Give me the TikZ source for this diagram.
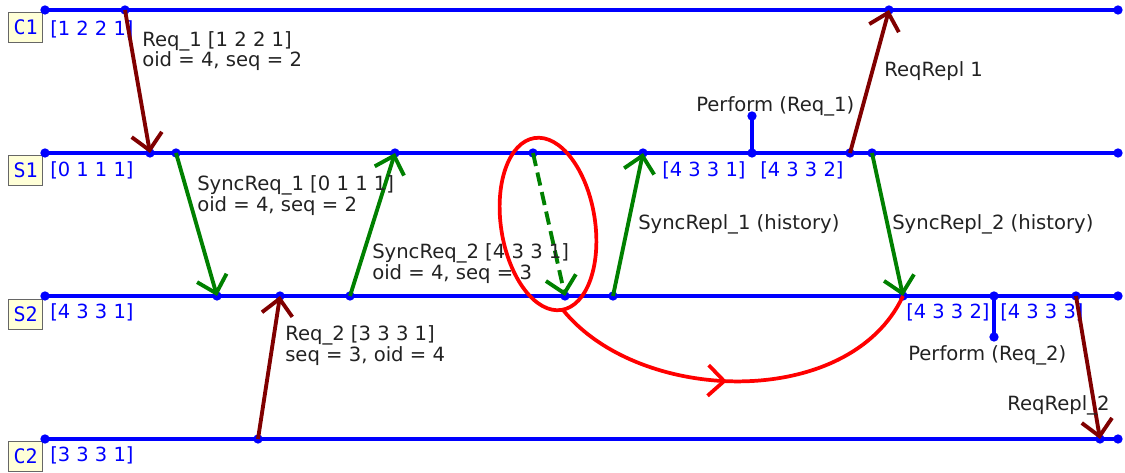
\documentclass[tikz,border=0pt]{standalone}
\usepackage{fontspec}
\setmainfont{DejaVu Sans}
\newfontfamily\pnamefont{DejaVu Sans Mono}
\usetikzlibrary{arrows.meta,decorations.markings}
\definecolor{darkred}{RGB}{128,0,0}
\definecolor{msggreen}{RGB}{0,128,0}
\definecolor{boxyellow}{RGB}{255,255,215}
\definecolor{txt}{RGB}{34,34,34}
\begin{document}
\begin{tikzpicture}[x=0.75pt,y=-0.75pt,
  tl/.style={draw=blue, line width=3.4pt},
  dot/.style={circle, fill=blue, inner sep=0pt, minimum size=7pt},
  msg/.style={line width=2.9pt, -{Straight Barb[length=12pt,width=23pt]}},
  reqmsg/.style={msg, draw=darkred},
  syncmsg/.style={msg, draw=msggreen},
  lbl/.style={anchor=north west, inner sep=0pt, align=left, text=txt, font=\fontsize{14.7}{14.5}\selectfont},
  vec/.style={anchor=north west, inner sep=0pt, text=blue, font=\fontsize{14.6}{14.5}\selectfont},
  pname/.style={draw=gray!80!black, fill=boxyellow, text=blue, line width=0.9pt, minimum width=25.5pt, minimum height=22.5pt, inner sep=0pt, anchor=north west, font=\pnamefont\fontsize{15}{15}\selectfont},
  hilite/.style={draw=red, line width=2.8pt}
]
\useasboundingbox (0,0) rectangle (1125,473);

% process names
\node[pname] (nC1) at (8,12) {C1};
\node[pname] (nS1) at (8,155) {S1};
\node[pname] (nS2) at (8,299) {S2};
\node[pname] (nC2) at (8,441) {C2};

% event dots
\node[dot] (c1a) at (45,10) {};
\node[dot] (c1b) at (125,10) {};
\node[dot] (c1c) at (889,10) {};
\node[dot] (c1z) at (1118,10) {};

\node[dot] (s1a) at (45,153) {};
\node[dot] (s1b) at (150,153) {};
\node[dot] (s1c) at (176,153) {};
\node[dot] (s1d) at (395,153) {};
\node[dot] (s1e) at (533,153) {};
\node[dot] (s1f) at (643,153) {};
\node[dot] (s1g) at (752,153) {};
\node[dot] (s1p) at (752,116) {};
\node[dot] (s1h) at (850,153) {};
\node[dot] (s1i) at (872,153) {};
\node[dot] (s1z) at (1118,153) {};

\node[dot] (s2a) at (45,296) {};
\node[dot] (s2b) at (217,296) {};
\node[dot] (s2c) at (280,296) {};
\node[dot] (s2d) at (350,296) {};
\node[dot] (s2e) at (565,296) {};
\node[dot] (s2f) at (613,296) {};
\node[dot] (s2g) at (903,296) {};
\node[dot] (s2h) at (994,296) {};
\node[dot] (s2p) at (994,337) {};
\node[dot] (s2i) at (1076,296) {};
\node[dot] (s2z) at (1118,296) {};

\node[dot] (c2a) at (45,439) {};
\node[dot] (c2b) at (258,439) {};
\node[dot] (c2c) at (1100,439) {};
\node[dot] (c2z) at (1118,439) {};

% timelines
\draw[tl] (c1a.center) -- (c1z.center);
\draw[tl] (s1a.center) -- (s1z.center);
\draw[tl] (s2a.center) -- (s2z.center);
\draw[tl] (c2a.center) -- (c2z.center);
\draw[tl] (s1g.center) -- (s1p.center);
\draw[tl] (s2h.center) -- (s2p.center);

% vector clocks
\node[vec] (v1) at (50,20) {[1 2 2 1]};
\node[vec] (v2) at (50,161) {[0 1 1 1]};
\node[vec] (v3) at (50,303) {[4 3 3 1]};
\node[vec] (v4) at (50,446) {[3 3 3 1]};
\node[vec] (v5) at (662,161) {[4 3 3 1]};
\node[vec] (v6) at (760,161) {[4 3 3 2]};
\node[vec] (v7) at (906,303) {[4 3 3 2]};
\node[vec] (v8) at (1000,303) {[4 3 3 3]};

% messages
\draw[reqmsg] (c1b.center) -- (s1b.center);
\draw[syncmsg] (s1c.center) -- (s2b.center);
\draw[syncmsg] (s2d.center) -- (s1d.center);
\draw[syncmsg, dash pattern=on 10pt off 5pt] (s1e.center) -- (s2e.center);
\draw[syncmsg] (s2f.center) -- (s1f.center);
\draw[reqmsg] (s1h.center) -- (c1c.center);
\draw[syncmsg] (s1i.center) -- (s2g.center);
\draw[reqmsg] (c2b.center) -- (s2c.center);
\draw[reqmsg] (s2i.center) -- (c2c.center);

% labels
\node[lbl] (l1) at (142,31) {Req\_1 [1 2 2 1]\\oid = 4, seq = 2};
\node[lbl] (l2) at (197,175) {SyncReq\_1 [0 1 1 1]\\oid = 4, seq = 2};
\node[lbl] (l3) at (372,243) {SyncReq\_2 [4 3 3 1]\\oid = 4, seq = 3};
\node[lbl] (l4) at (638,214) {SyncRepl\_1 (history)};
\node[lbl] (l5) at (892,214) {SyncRepl\_2 (history)};
\node[lbl] (l6) at (696,96) {Perform (Req\_1)};
\node[lbl] (l7) at (884,61) {ReqRepl 1};
\node[lbl] (l8) at (908,345) {Perform (Req\_2)};
\node[lbl] (l9) at (1007,395) {ReqRepl\_2};
\node[lbl] (l10) at (285,325) {Req\_2 [3 3 3 1]\\seq = 3, oid = 4};

% red annotation
\draw[hilite, rotate around={9:(548,224)}] (548,224) ellipse [x radius=47, y radius=87];
\coordinate (rs) at (563,310);
\draw[hilite, decoration={markings, mark=at position 0.47 with {\arrow{Straight Barb[length=12pt,width=23pt]}}}, postaction={decorate}]
  (rs) .. controls (640,405) and (850,410) .. (s2g.center);
\end{tikzpicture}
\end{document}
